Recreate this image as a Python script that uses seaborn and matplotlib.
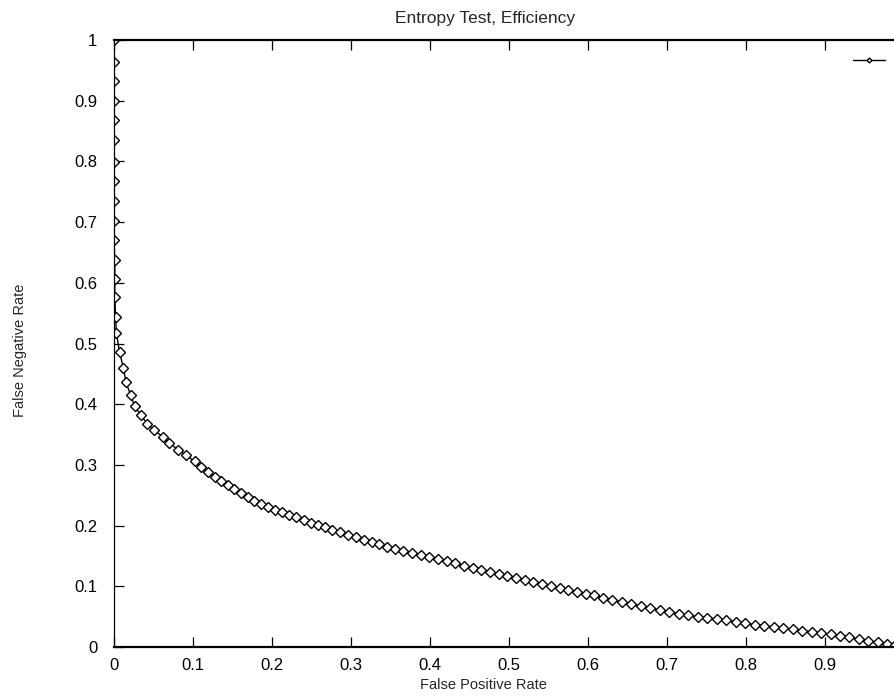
import matplotlib
matplotlib.use("Agg")
import matplotlib.pyplot as plt
import seaborn as sns
import pandas as pd

# False positive rate (x) and false negative rate (y)
fp_rate = [
    0.000, 0.000, 0.000, 0.000, 0.000, 0.000, 0.000, 0.000, 0.000, 0.000,
    0.000, 0.001, 0.001, 0.001, 0.002, 0.003, 0.007,
    0.012, 0.015, 0.021, 0.026, 0.034, 0.042, 0.051, 0.062, 0.070, 0.081,
    0.091, 0.102, 0.110, 0.119, 0.128, 0.136, 0.144, 0.152, 0.161, 0.169,
    0.177, 0.186, 0.195, 0.204, 0.213, 0.222, 0.231, 0.240, 0.249, 0.258,
    0.267, 0.276, 0.286, 0.296, 0.306, 0.316, 0.326, 0.336, 0.346, 0.356,
    0.366, 0.377, 0.388, 0.399, 0.410, 0.421, 0.432, 0.443, 0.454, 0.465,
    0.476, 0.487, 0.498, 0.509, 0.520, 0.531, 0.542, 0.553, 0.564, 0.575,
    0.586, 0.597, 0.608, 0.619, 0.631, 0.643, 0.655, 0.667, 0.679, 0.691,
    0.703, 0.715, 0.727, 0.739, 0.751, 0.763, 0.775, 0.787, 0.799, 0.811,
    0.823, 0.835, 0.847, 0.859, 0.871, 0.883, 0.895, 0.907, 0.919, 0.931,
    0.943, 0.955, 0.967, 0.979, 0.988,
]
fn_rate = [
    1.000, 0.964, 0.932, 0.899, 0.868, 0.836, 0.799, 0.767, 0.734, 0.701,
    0.670, 0.638, 0.606, 0.576, 0.544, 0.517, 0.486,
    0.459, 0.437, 0.415, 0.397, 0.382, 0.368, 0.357, 0.346, 0.336, 0.325,
    0.316, 0.306, 0.296, 0.288, 0.280, 0.274, 0.267, 0.261, 0.254, 0.247,
    0.241, 0.236, 0.231, 0.226, 0.222, 0.218, 0.214, 0.209, 0.205, 0.201,
    0.197, 0.193, 0.189, 0.185, 0.181, 0.177, 0.173, 0.169, 0.165, 0.162,
    0.158, 0.155, 0.152, 0.149, 0.145, 0.142, 0.138, 0.134, 0.130, 0.127,
    0.123, 0.120, 0.117, 0.113, 0.110, 0.107, 0.104, 0.101, 0.097, 0.094,
    0.091, 0.088, 0.085, 0.081, 0.077, 0.074, 0.071, 0.067, 0.064, 0.061,
    0.058, 0.055, 0.052, 0.050, 0.048, 0.046, 0.044, 0.042, 0.039, 0.037,
    0.035, 0.033, 0.031, 0.029, 0.027, 0.025, 0.023, 0.021, 0.018, 0.016,
    0.013, 0.010, 0.008, 0.005, 0.003,
]
x_ticks = [0, 0.1, 0.2, 0.3, 0.4, 0.5, 0.6, 0.7, 0.8, 0.9]
y_ticks = [0, 0.1, 0.2, 0.3, 0.4, 0.5, 0.6, 0.7, 0.8, 0.9, 1]

df = pd.DataFrame({"fp": fp_rate, "fn": fn_rate})

sns.set_theme(style="ticks")
plt.rcParams["font.family"] = ["Liberation Sans", "DejaVu Sans"]

fig = plt.figure(figsize=(8.95, 6.96), dpi=100)
ax = fig.add_axes([114 / 895, 49 / 696, 790 / 895, 607 / 696])

sns.lineplot(data=df, x="fp", y="fn", sort=False, estimator=None,
             color="black", linewidth=1.0, marker="D", markersize=5.0,
             markerfacecolor="white", markeredgecolor="black",
             markeredgewidth=1.0, ax=ax, legend=False)

ax.set_xlim(0, 1)
ax.set_ylim(0, 1)
ax.set_xticks(x_ticks)
ax.set_yticks(y_ticks)
ax.set_xticklabels([f"{t:g}" for t in x_ticks])
ax.set_yticklabels([f"{t:g}" for t in y_ticks])
ax.tick_params(axis="both", direction="in", length=7, width=0.9, top=True,
               right=True, labelsize=12, colors="black")
ax.tick_params(axis="x", pad=8)
ax.tick_params(axis="y", pad=12)
for side in ["left", "right", "top", "bottom"]:
    ax.spines[side].set_visible(True)
    ax.spines[side].set_color("black")
ax.spines["left"].set_linewidth(0.9)
ax.spines["top"].set_linewidth(1.6)
ax.spines["bottom"].set_linewidth(1.6)
ax.spines["right"].set_linewidth(1.0)

ax.set_xlabel("")
ax.set_ylabel("")
fig.text(483 / 895, 1 - 685 / 696, "False Positive Rate", ha="center",
         va="center", fontsize=10.5)
fig.text(20 / 895, 1 - 350 / 696, "False Negative Rate", ha="center",
         va="center", rotation=90, fontsize=10.5)
fig.text(485 / 895, 1 - 18 / 696, "Entropy Test, Efficiency", ha="center",
         va="center", fontsize=12.5)

# legend sample (its text lies beyond the cropped right edge in the reference)
line = ax.get_lines()[0]
leg = ax.legend(handles=[line], labels=[""], loc="upper left",
                bbox_to_anchor=((853 - 114) / 790, (647 - 54) / 607),
                frameon=False, handlelength=2.2, fontsize=10.5,
                borderaxespad=0, borderpad=0, handletextpad=0.0)
for h in leg.legend_handles:
    h.set_markersize(2.5)

fig.savefig("out.png", dpi=100)
